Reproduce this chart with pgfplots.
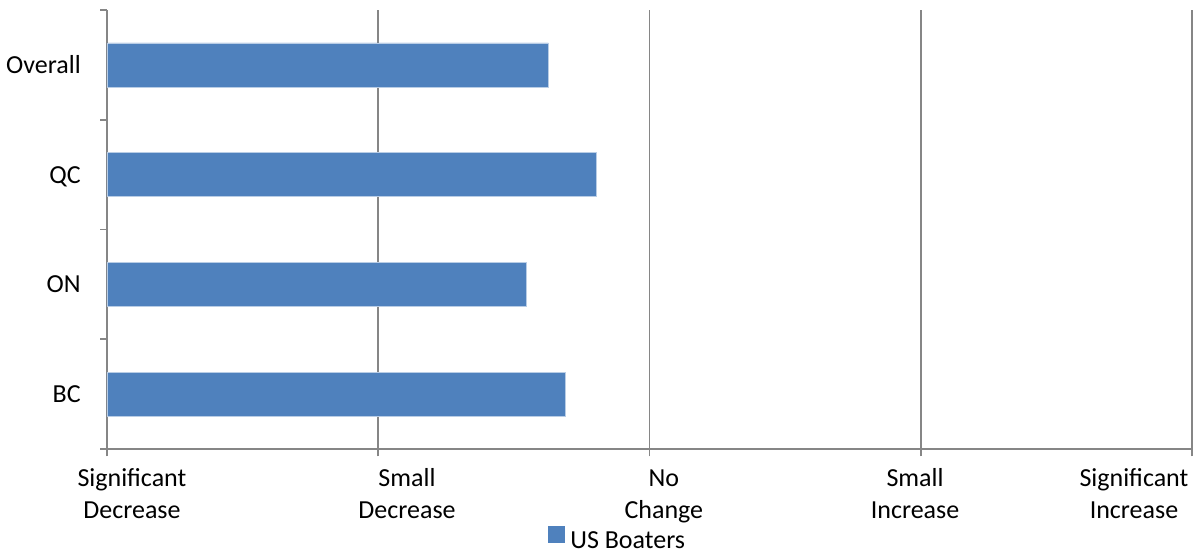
\documentclass[border=0pt]{standalone}
\usepackage{fontspec}
\setmainfont{Carlito}
\usepackage{pgfplots}
\pgfplotsset{compat=1.18}
\definecolor{barblue}{RGB}{79,129,189}
\definecolor{baredge}{RGB}{185,205,229}
\definecolor{gridgray}{RGB}{134,134,134}
\newcommand{\cf}{\fontsize{19.5}{24}\selectfont}
\begin{document}
\begin{tikzpicture}
\useasboundingbox (-80.25pt,-77.25pt) rectangle (818.25pt,336.75pt);
\begin{axis}[
  scale only axis,
  width=813.75pt, height=329.25pt,
  xmin=0, xmax=4, ymin=-0.5, ymax=3.5,
  xbar, bar width=33pt,
  clip=false,
  axis x line*=bottom, axis y line*=left,
  x axis line style={-, draw=gridgray, line width=1.4pt},
  y axis line style={-, draw=gridgray, line width=1.4pt},
  xtick={0,1,2,3,4}, xticklabels={},
  ytick={0,1,2,3}, yticklabels={},
  tick align=outside,
  major tick length=5.5pt,
  xtick style={draw=gridgray, line width=1.4pt},
  ytick style={draw=none},
  xmajorgrids, grid style={draw=gridgray, line width=1.4pt},
  legend style={at={(axis description cs:0.471,-0.206)}, anchor=center, draw=none, font=\cf, inner sep=0pt,
    /tikz/every even column/.append style={column sep=4.5pt}},
  legend image code/.code={\fill[barblue, draw=none] (0pt,-1pt) rectangle (12.75pt,11.75pt); \path[draw=none, fill=none] (0pt,0pt) -- (14.5pt,0pt);},
]
\addplot[fill=barblue, draw=baredge, line width=0.5pt] coordinates {
  (1.691,0) (1.547,1) (1.804,2) (1.627,3)
};
\addlegendentry{US Boaters}
\foreach \yy in {-0.5,0.5,1.5,2.5,3.5} {
  \edef\tmp{\noexpand\draw[gridgray, line width=1.4pt] (axis cs:0,\yy) -- ++(-5.5pt,0pt);}\tmp
}
\node[anchor=base east, font=\cf, inner sep=0pt, xshift=-19.5pt, yshift=-6.3pt] at (axis cs:0,0) {BC};
\node[anchor=base east, font=\cf, inner sep=0pt, xshift=-19.5pt, yshift=-6.3pt] at (axis cs:0,1) {ON};
\node[anchor=base east, font=\cf, inner sep=0pt, xshift=-19.5pt, yshift=-6.3pt] at (axis cs:0,2) {QC};
\node[anchor=base east, font=\cf, inner sep=0pt, xshift=-19.5pt, yshift=-6.3pt] at (axis cs:0,3) {Overall};
\node[anchor=north, font=\cf, align=center, inner sep=0pt, yshift=-11.5pt] at (axis cs:0.092,-0.5) {\strut Significant\\Decrease};
\node[anchor=north, font=\cf, align=center, inner sep=0pt, yshift=-11.5pt] at (axis cs:1.106,-0.5) {\strut Small\\Decrease};
\node[anchor=north, font=\cf, align=center, inner sep=0pt, yshift=-11.5pt] at (axis cs:2.053,-0.5) {\strut No\\Change};
\node[anchor=north, font=\cf, align=center, inner sep=0pt, yshift=-11.5pt] at (axis cs:2.979,-0.5) {\strut Small\\Increase};
\node[anchor=north, font=\cf, align=center, inner sep=0pt, yshift=-11.5pt] at (axis cs:3.786,-0.5) {\strut Significant\\Increase};
\end{axis}
\end{tikzpicture}
\end{document}
